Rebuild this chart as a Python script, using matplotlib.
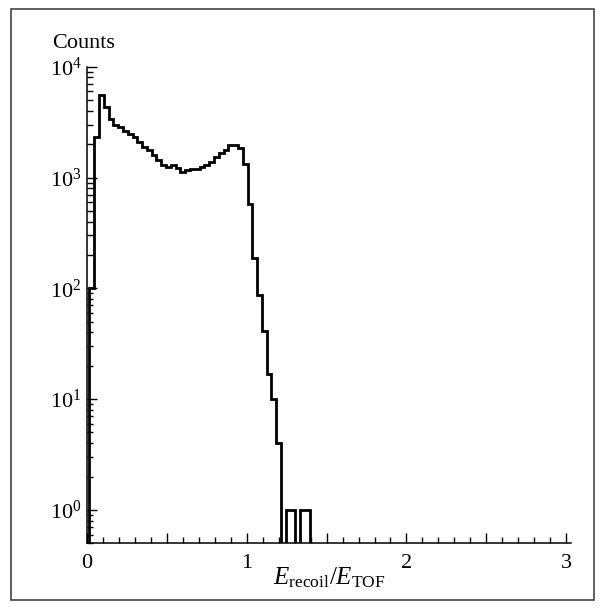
import numpy as np
import matplotlib
matplotlib.use("Agg")
import matplotlib.pyplot as plt
from matplotlib.patches import Rectangle
from matplotlib.ticker import MultipleLocator, FixedLocator, LogLocator, NullFormatter

# ---- data ----
bin_start = 0.015
bin_width = 0.03
counts = [100, 2300, 5500, 4300, 3400, 3000, 2850, 2650, 2470, 2300,
          2100, 1900, 1770, 1600, 1450, 1300, 1250, 1300, 1210, 1130,
          1170, 1190, 1190, 1250, 1310, 1390, 1540, 1650, 1770, 1960,
          1960, 1830, 1320, 577, 187, 87, 41, 17, 10, 4,
          0, 1, 1, 0, 1, 1]
x_ticks = [0, 0.5, 1, 1.5, 2, 2.5, 3]
x_tick_labels = ["0", "", "1", "", "2", "", "3"]
y_label = "Counts"
x_label = r"$E_{\mathrm{recoil}}/E_{\mathrm{TOF}}$"

plt.rcParams['font.family'] = ['Liberation Serif', 'DejaVu Serif']
plt.rcParams['mathtext.fontset'] = 'custom'
plt.rcParams['mathtext.rm'] = 'Liberation Serif'
plt.rcParams['mathtext.it'] = 'Liberation Serif:italic'
plt.rcParams['mathtext.bf'] = 'Liberation Serif:bold'

fig = plt.figure(figsize=(6.05, 6.09), dpi=100)
W, H = 605, 609
ax_l, ax_r, ax_t, ax_b = 87, 571, 66.7, 543.3
ax = fig.add_axes([ax_l / W, 1 - ax_b / H, (ax_r - ax_l) / W, (ax_b - ax_t) / H])

floor = 1e-2
vals = np.array(counts, dtype=float)
vals = np.where(vals > 0, vals, floor)
edges = bin_start + bin_width * np.arange(len(counts) + 1)
ax.stairs(vals, edges, baseline=floor, color='black', linewidth=2.0)

ax.set_yscale('log')
ax.set_xlim(0, 3.03)
ax.set_ylim(0.5, 1e4)

for s in ['top', 'right']:
    ax.spines[s].set_visible(False)
for s in ['left', 'bottom']:
    ax.spines[s].set_linewidth(1.1)
    ax.spines[s].set_color('black')

ax.xaxis.set_major_locator(FixedLocator(x_ticks))
ax.set_xticklabels(x_tick_labels)
ax.xaxis.set_minor_locator(MultipleLocator(0.1))
ax.yaxis.set_major_locator(LogLocator(base=10, numticks=10))
ax.yaxis.set_minor_locator(LogLocator(base=10, subs=np.arange(2, 10), numticks=20))
ax.yaxis.set_minor_formatter(NullFormatter())

ax.tick_params(axis='both', which='major', direction='in', length=7, width=1.0,
               labelsize=16)
ax.tick_params(axis='both', which='minor', direction='in', length=4.5, width=1.0)
ax.tick_params(axis='x', which='major', pad=8)
ax.tick_params(axis='y', which='major', pad=4)

ax.set_xlabel(x_label, fontsize=18, labelpad=-6)
fig.text(52 / W, 1 - 48 / H, y_label, fontsize=16, ha='left', va='baseline')

fig.patches.append(Rectangle((11 / W, 1 - 600 / H), (594 - 11) / W, (600 - 9) / H,
                             transform=fig.transFigure, fill=False,
                             edgecolor='#444444', linewidth=1.2))

fig.savefig('out.png', dpi=100)
